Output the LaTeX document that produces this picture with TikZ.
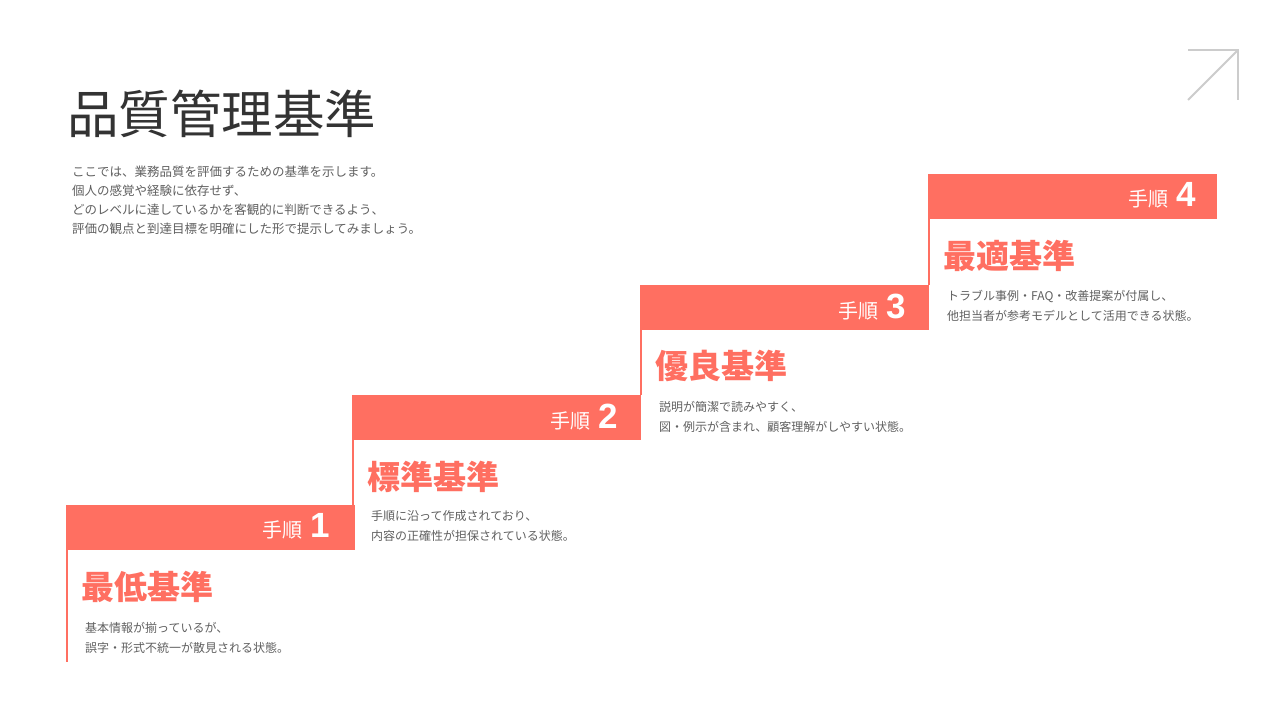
\documentclass[tikz,border=0pt]{standalone}
\usepackage{fontspec}
\setmainfont{Noto Sans CJK JP}
\newfontfamily\numfont{Liberation Sans}
\usetikzlibrary{positioning}
\definecolor{coral}{RGB}{255,111,97}
\definecolor{inkgray}{RGB}{51,51,51}
\definecolor{textgray}{RGB}{96,96,96}
\definecolor{icongray}{RGB}{204,204,204}
\tikzset{stepbar/.style={fill=coral, draw=none, minimum width=289pt, minimum height=45pt, anchor=north west, inner sep=0pt}}
\tikzset{steplbl/.style={text=white, inner sep=0pt, anchor=east}}
\tikzset{levelttl/.style={text=coral, font=\fontsize{33}{33}\selectfont\bfseries, inner sep=0pt, anchor=west}}
\tikzset{leveldesc/.style={text=textgray, font=\fontsize{12}{20}\selectfont, align=left, inner sep=0pt, anchor=west}}
\tikzset{riser/.style={draw=coral, line width=2pt}}
\tikzset{icon/.style={draw=icongray, line width=2pt}}
\newcommand{\stepno}[1]{{\fontsize{20}{20}\selectfont 手順}\hspace{8pt}{\numfont\bfseries\fontsize{35}{35}\selectfont #1}}

\begin{document}
\begin{tikzpicture}[x=1pt, y=-1pt]
            \useasboundingbox[fill=white] (0,0) rectangle (1280,720);

            % heading
            \node[text=inkgray, font=\fontsize{51.5}{52}\selectfont, anchor=west, inner sep=0pt] (heading) at (67,114) {品質管理基準};
            \node[text=textgray, font=\fontsize{12.5}{19}\selectfont, align=left, anchor=west, inner sep=0pt] (lead) at (72,200)
                {ここでは、業務品質を評価するための基準を示します。\\個人の感覚や経験に依存せず、\\どのレベルに達しているかを客観的に判断できるよう、\\評価の観点と到達目標を明確にした形で提示してみましょう。};

            % icon
            \coordinate (arrtip) at (1238,50);
            \draw[icon] (1188,100) -- (arrtip);
            \draw[icon] (1188,50) -- (arrtip) -- (1238,100);

            % steps
            \node[stepbar] (bar1) at (66,505) {};
            \node[stepbar] (bar2) at (352,395) {};
            \node[stepbar] (bar3) at (640,285) {};
            \node[stepbar] (bar4) at (928,174) {};

            \node[steplbl] (lbl1) at ([xshift=-25pt,yshift=1pt]bar1.east) {\stepno{1}};
            \node[steplbl] (lbl2) at ([xshift=-23pt,yshift=1pt]bar2.east) {\stepno{2}};
            \node[steplbl] (lbl3) at ([xshift=-23pt,yshift=1pt]bar3.east) {\stepno{3}};
            \node[steplbl] (lbl4) at ([xshift=-21pt,yshift=1pt]bar4.east) {\stepno{4}};

            \coordinate (foot1) at (67,662);
            \draw[riser] ([xshift=1pt]bar1.south west) -- (foot1);
            \draw[riser] ([xshift=1pt]bar2.south west) -- ([xshift=1pt]bar2.south west |- bar1.north);
            \draw[riser] ([xshift=1pt]bar3.south west) -- ([xshift=1pt]bar3.south west |- bar2.north);
            \draw[riser] ([xshift=1pt]bar4.south west) -- ([xshift=1pt]bar4.south west |- bar3.north);

            \node[levelttl] (ttl1) at (81,587) {最低基準};
            \node[leveldesc] (desc1) at (85,638) {基本情報が揃っているが、\\誤字・形式不統一が散見される状態。};
            \node[levelttl] (ttl2) at (367,477) {標準基準};
            \node[leveldesc] (desc2) at (371,526) {手順に沿って作成されており、\\内容の正確性が担保されている状態。};
            \node[levelttl] (ttl3) at (655,366) {優良基準};
            \node[leveldesc] (desc3) at (659,417) {説明が簡潔で読みやすく、\\図・例示が含まれ、顧客理解がしやすい状態。};
            \node[levelttl] (ttl4) at (943,256) {最適基準};
            \node[leveldesc] (desc4) at (947,306) {トラブル事例・FAQ・改善提案が付属し、\\他担当者が参考モデルとして活用できる状態。};
        \end{tikzpicture}
\end{document}
